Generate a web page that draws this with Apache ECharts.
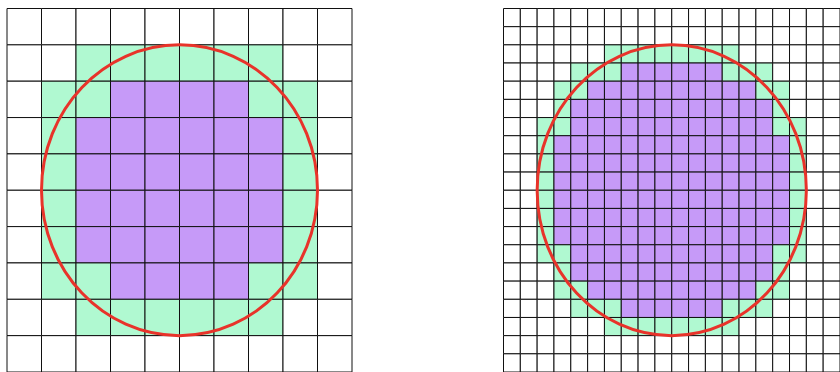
<!DOCTYPE html>
<html lang="en">
<head>
<meta charset="UTF-8">
<script src="https://cdn.jsdelivr.net/npm/echarts@6/dist/echarts.min.js"></script>
</head>
<body style="margin: 0; background: #fff">
<div id="main" style="width: 840px; height: 372px"></div>
<script>
// cell states, top row first: '.' outside, 'g' touches the circle, 'p' fully inside
var coarseRows = [
    '..........',
    '..gggggg..',
    '.ggppppgg.',
    '.gppppppg.',
    '.gppppppg.',
    '.gppppppg.',
    '.gppppppg.',
    '.ggppppgg.',
    '..gggggg..',
    '..........'
];
var fineRows = [
    '....................',
    '....................',
    '......gggggggg......',
    '....gggppppppggg....',
    '...ggppppppppppgg...',
    '...gppppppppppppg...',
    '..ggppppppppppppgg..',
    '..gppppppppppppppg..',
    '..gppppppppppppppg..',
    '..gppppppppppppppg..',
    '..gppppppppppppppg..',
    '..gppppppppppppppg..',
    '..gppppppppppppppg..',
    '..ggppppppppppppgg..',
    '...gppppppppppppg...',
    '...ggppppppppppgg...',
    '....gggppppppggg....',
    '......gggggggg......',
    '....................',
    '....................'
];
var circle = [0, 0, 4];   // centre x, centre y, radius
var extent = [-5, 5];
var kinds = {'.': 0, 'g': 1, 'p': 2};
var fills = ['#ffffff', '#b0f9d1', '#c69af8'];

function cellsFrom(rows, step) {
    var out = [];
    rows.forEach(function (row, r) {
        for (var c = 0; c < row.length; c++) {
            out.push([extent[0] + c * step, extent[1] - r * step, step, kinds[row[c]]]);
        }
    });
    return out;
}

function renderCell(params, api) {
    var p = api.coord([api.value(0), api.value(1)]);
    var s = api.size([api.value(2), api.value(2)]);
    return {
        type: 'rect',
        shape: {x: p[0], y: p[1], width: s[0], height: s[1]},
        style: {fill: fills[api.value(3)], stroke: '#111', lineWidth: 1}
    };
}

function renderCircle(params, api) {
    var c = api.coord([api.value(0), api.value(1)]);
    var s = api.size([api.value(2), api.value(2)]);
    return {
        type: 'ellipse',
        shape: {cx: c[0], cy: c[1], rx: s[0], ry: s[1]},
        style: {fill: 'transparent', stroke: '#e8332a', lineWidth: 3}
    };
}

var myChart = echarts.init(document.getElementById('main'));
var axis = {type: 'value', min: extent[0], max: extent[1], show: false};

option = {
    animation: false,
    grid: [
        {left: 7, top: 8.5, width: 345, height: 364},
        {left: 503.5, top: 8.5, width: 347.5, height: 364}
    ],
    xAxis: [
        Object.assign({gridIndex: 0}, axis),
        Object.assign({gridIndex: 1}, axis)
    ],
    yAxis: [
        Object.assign({gridIndex: 0}, axis),
        Object.assign({gridIndex: 1}, axis)
    ],
    series: [
        {type: 'custom', xAxisIndex: 0, yAxisIndex: 0, renderItem: renderCell,
         data: cellsFrom(coarseRows, 1), encode: {x: 0, y: 1}},
        {type: 'custom', xAxisIndex: 1, yAxisIndex: 1, renderItem: renderCell,
         data: cellsFrom(fineRows, 0.5), encode: {x: 0, y: 1}},
        {type: 'custom', xAxisIndex: 0, yAxisIndex: 0, renderItem: renderCircle,
         data: [circle], encode: {x: 0, y: 1}, z: 5},
        {type: 'custom', xAxisIndex: 1, yAxisIndex: 1, renderItem: renderCircle,
         data: [circle], encode: {x: 0, y: 1}, z: 5}
    ]
};
myChart.setOption(option);
</script>
</body>
</html>
